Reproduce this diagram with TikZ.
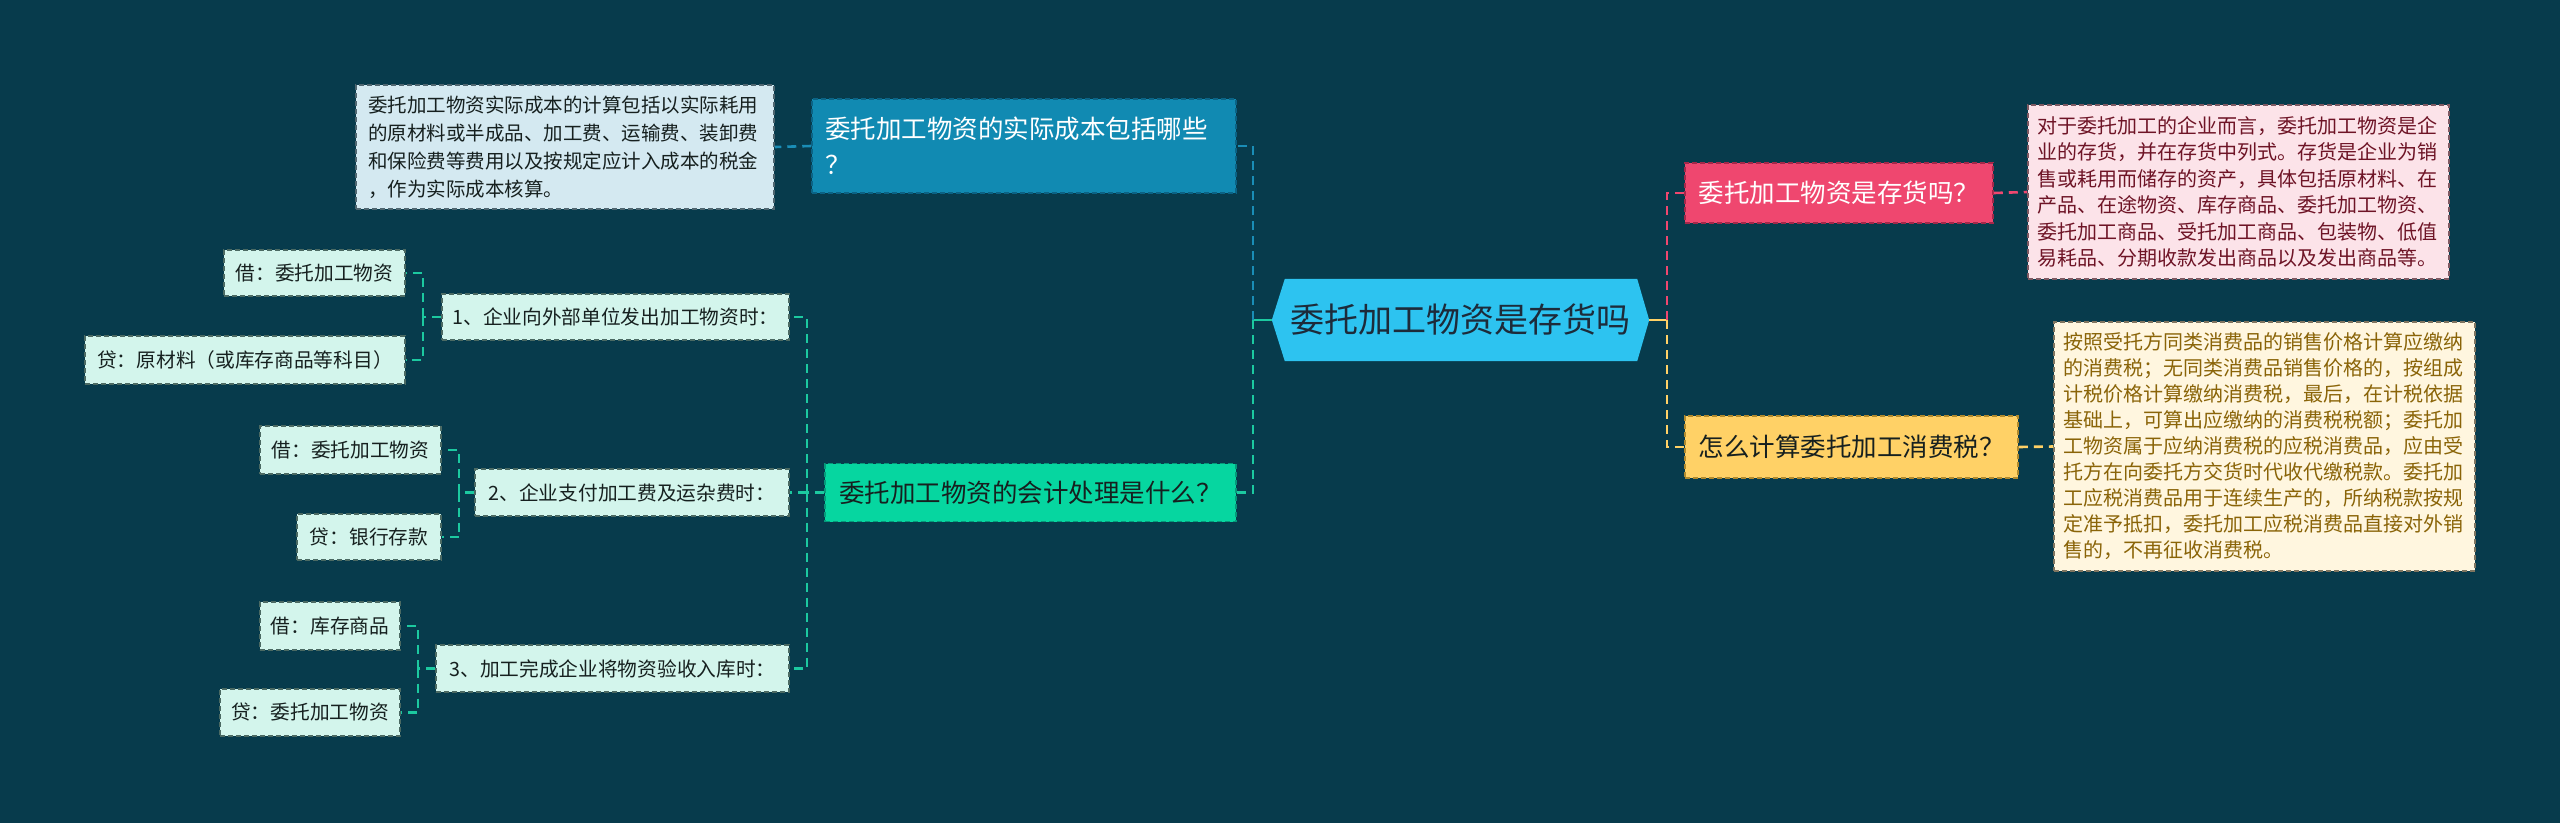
\documentclass[tikz,border=0pt]{standalone}
\usepackage{fontspec}
\setmainfont{Noto Sans CJK SC}
\definecolor{bg}{HTML}{073B4C}
\definecolor{ctrfill}{HTML}{2DC3F0}
\definecolor{ctrtext}{HTML}{1D2B3A}
\definecolor{bluefill}{HTML}{118AB2}
\definecolor{blueline}{HTML}{1A8DB6}
\definecolor{blueborder}{HTML}{0B6385}
\definecolor{lbluefill}{HTML}{D4E9F1}
\definecolor{lblueborder}{HTML}{4F6670}
\definecolor{greenfill}{HTML}{06D6A0}
\definecolor{greenborder}{HTML}{05997A}
\definecolor{greenline}{HTML}{1CC9A0}
\definecolor{mintfill}{HTML}{D3F5EC}
\definecolor{mintborder}{HTML}{4B6A63}
\definecolor{pinkfill}{HTML}{EF476F}
\definecolor{pinkborder}{HTML}{A3284A}
\definecolor{lpinkfill}{HTML}{FCE3E9}
\definecolor{lpinkborder}{HTML}{7E5962}
\definecolor{lpinktext}{HTML}{6E1426}
\definecolor{yelfill}{HTML}{FFD166}
\definecolor{yelborder}{HTML}{B08A2E}
\definecolor{lyelfill}{HTML}{FFF6DF}
\definecolor{lyelborder}{HTML}{7F7560}
\definecolor{lyeltext}{HTML}{8A6408}
\definecolor{darktext}{HTML}{16201F}
\tikzset{
  boxbase/.style={rectangle, inner sep=0pt, draw, line width=1.5pt, dash pattern=on 5pt off 3pt},
  qnode/.style={boxbase, font=\fontsize{25.5pt}{36pt}\selectfont},
  subnode/.style={boxbase, fill=mintfill, draw=mintborder, text=darktext, font=\fontsize{19.7pt}{26pt}\selectfont},
  txtbox/.style={boxbase, align=left, font=\fontsize{19.5pt}{26.5pt}\selectfont},
  conn/.style={line width=2.6pt, dash pattern=on 9pt off 6pt},
  solidconn/.style={line width=2.6pt}
}
\begin{document}
\begin{tikzpicture}[x=1pt,y=-1pt]
\useasboundingbox (0,0) rectangle (2560,823);
\fill[bg] (0,0) rectangle (2560,823);

% center
\node[rectangle, inner sep=0pt, minimum width=377pt, minimum height=82pt] (c) at (1460.5,320) {};
\fill[ctrfill] (c.west) -- ([xshift=13pt]c.north west) -- ([xshift=-12pt]c.north east) -- (c.east) -- ([xshift=-12pt]c.south east) -- ([xshift=13pt]c.south west) -- cycle;
\node[text=ctrtext, font=\fontsize{34pt}{40pt}\selectfont] (ct) at (c.center) {委托加工物资是存货吗};

% left branch 1
\node[qnode, fill=bluefill, draw=blueborder, text=white, minimum width=424pt, minimum height=94pt, text width=398pt, align=left] (q1) at (1024,146) {委托加工物资的实际成本包括哪些\\？};
\node[txtbox, fill=lbluefill, draw=lblueborder, text=darktext, minimum width=418pt, minimum height=124pt, text width=394pt, font=\fontsize{19.5pt}{28pt}\selectfont] (a1) at (565,147) {委托加工物资实际成本的计算包括以实际耗用\\的原材料或半成品、加工费、运输费、装卸费\\和保险费等费用以及按规定应计入成本的税金\\，作为实际成本核算。};

% left branch 2
\node[qnode, fill=greenfill, draw=greenborder, text=darktext, minimum width=411pt, minimum height=58pt] (q2) at (1030.5,492.5) {委托加工物资的会计处理是什么？};
\node[subnode, minimum width=347pt, minimum height=46pt] (n1) at (615.5,317) {1、企业向外部单位发出加工物资时：};
\node[subnode, minimum width=181pt, minimum height=46pt] (n1a) at (314.5,273) {借：委托加工物资};
\node[subnode, minimum width=320pt, minimum height=48pt] (n1b) at (245,360) {贷：原材料（或库存商品等科目）};
\node[subnode, minimum width=314pt, minimum height=47pt] (n2) at (632,492.5) {2、企业支付加工费及运杂费时：};
\node[subnode, minimum width=181pt, minimum height=48pt] (n2a) at (350.5,450) {借：委托加工物资};
\node[subnode, minimum width=144pt, minimum height=46pt] (n2b) at (369,537) {贷：银行存款};
\node[subnode, minimum width=353pt, minimum height=47pt] (n3) at (612.5,668.5) {3、加工完成企业将物资验收入库时：};
\node[subnode, minimum width=140pt, minimum height=48pt] (n3a) at (330,626) {借：库存商品};
\node[subnode, minimum width=180pt, minimum height=47pt] (n3b) at (310,712.5) {贷：委托加工物资};

% right branches
\node[qnode, fill=pinkfill, draw=pinkborder, text=white, minimum width=308pt, minimum height=60pt] (q3) at (1839,193) {委托加工物资是存货吗？};
\node[txtbox, fill=lpinkfill, draw=lpinkborder, text=lpinktext, minimum width=421pt, minimum height=174pt, text width=402pt, font=\fontsize{20pt}{26.5pt}\selectfont] (a3) at (2238.5,192) {对于委托加工的企业而言，委托加工物资是企\\业的存货，并在存货中列式。存货是企业为销\\售或耗用而储存的资产，具体包括原材料、在\\产品、在途物资、库存商品、委托加工物资、\\委托加工商品、受托加工商品、包装物、低值\\易耗品、分期收款发出商品以及发出商品等。};
\node[qnode, fill=yelfill, draw=yelborder, text=darktext, minimum width=333pt, minimum height=62pt] (q4) at (1851.5,447) {怎么计算委托加工消费税？};
\node[txtbox, fill=lyelfill, draw=lyelborder, text=lyeltext, minimum width=421pt, minimum height=249pt, text width=402pt, font=\fontsize{20pt}{26pt}\selectfont] (a4) at (2264.5,446.5) {按照受托方同类消费品的销售价格计算应缴纳\\的消费税；无同类消费品销售价格的，按组成\\计税价格计算缴纳消费税，最后，在计税依据\\基础上，可算出应缴纳的消费税税额；委托加\\工物资属于应纳消费税的应税消费品，应由受\\托方在向委托方交货时代收代缴税款。委托加\\工应税消费品用于连续生产的，所纳税款按规\\定准予抵扣，委托加工应税消费品直接对外销\\售的，不再征收消费税。};

% junction coordinates
\coordinate (jl) at (1253,320);
\coordinate (jr) at (1667,320);
\coordinate (jq2) at (807,492.5);
\coordinate (j1) at (423,317);
\coordinate (j2) at (459,492.5);
\coordinate (j3) at (418,668.5);

% connectors center
\draw[solidconn, greenline] (c.west) -- (jl);
\draw[conn, blueline] (jl) |- (q1.east);
\draw[conn, greenline] (jl) |- (q2.east);
\draw[solidconn, yelfill] (c.east) -- (jr);
\draw[conn, pinkfill] (jr) |- (q3.west);
\draw[conn, yelfill] (jr) |- (q4.west);

% answers
\draw[conn, blueline] (q1.west) -- (a1.east);
\draw[conn, pinkfill] (q3.east) -- (a3.west);
\draw[conn, yelfill] (q4.east) -- (a4.west);

% accounting tree
\draw[conn, greenline] (q2.west) -- (jq2);
\draw[conn, greenline] (jq2) |- (n1.east);
\draw[conn, greenline] (jq2) |- (n2.east);
\draw[conn, greenline] (jq2) |- (n3.east);
\draw[conn, greenline] (n1.west) -- (j1);
\draw[conn, greenline] (j1) |- (n1a.east);
\draw[conn, greenline] (j1) |- (n1b.east);
\draw[conn, greenline] (n2.west) -- (j2);
\draw[conn, greenline] (j2) |- (n2a.east);
\draw[conn, greenline] (j2) |- (n2b.east);
\draw[conn, greenline] (n3.west) -- (j3);
\draw[conn, greenline] (j3) |- (n3a.east);
\draw[conn, greenline] (j3) |- (n3b.east);
\end{tikzpicture}
\end{document}
